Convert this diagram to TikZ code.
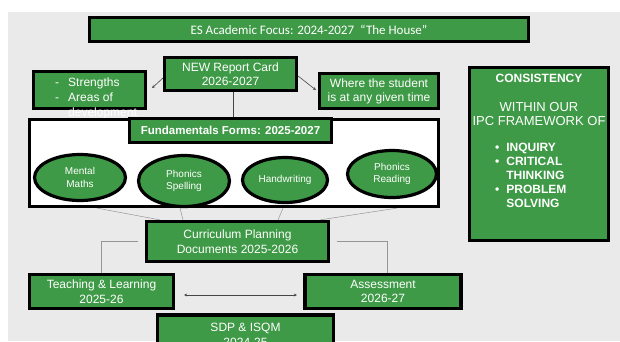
\documentclass[tikz,border=0pt]{standalone}
\usepackage{fontspec}
\setmainfont{Liberation Sans}
\newfontfamily\titlefont{Carlito}
\usetikzlibrary{shapes.geometric,arrows.meta,backgrounds}
\definecolor{housegreen}{RGB}{62,154,70}
\definecolor{slidegray}{RGB}{234,234,234}
\definecolor{linkgray}{RGB}{150,150,150}
\definecolor{arrowgray}{RGB}{70,70,70}
\newcommand\boxsize{\fontsize{12}{14.5}\selectfont}
\newcommand\ovalsize{\fontsize{10}{12.5}\selectfont}

\begin{document}
\begin{tikzpicture}
    [x=1pt,y=-1pt,
     greenbox/.style={draw=black,line width=3.2pt,fill=housegreen,text=white,align=center,inner sep=0pt},
     greenoval/.style={ellipse,draw=black,line width=3.2pt,fill=housegreen,text=white,align=center,inner sep=0pt,font=\ovalsize},
     link/.style={draw=linkgray,line width=0.5pt},
     pointer/.style={draw=arrowgray,line width=0.6pt,-{Stealth[length=3pt,width=3pt]}}]
    \boxsize
    \useasboundingbox (0,0) rectangle (620,341);
    % top row
    \node[greenbox,minimum width=439pt,minimum height=24pt,font=\titlefont\fontsize{13}{15}\selectfont] (title) at (309,29.5) {ES Academic Focus: 2024-2027~ “The House”};
    \node[greenbox,minimum width=132pt,minimum height=33pt] (report) at (230.5,74) {NEW Report Card\\2026-2027};
    \node[greenbox,minimum width=112pt,minimum height=37pt] (strengths) at (89.5,90) {};
    \node[text=white,align=left,inner sep=0pt,anchor=west,font=\fontsize{12}{15}\selectfont] (strengthslist) at (55,98)
      {-\hspace{9pt}Strengths\\-\hspace{9pt}Areas of\\\phantom{-}\hspace{9pt}development};
    \node[greenbox,minimum width=119pt,minimum height=35pt,font=\fontsize{12}{14}\selectfont] (where) at (379,91) {Where the student\\is at any given time};
    % side box
    \node[greenbox,minimum width=139pt,minimum height=173pt] (consistency) at (539,154) {};
    \node[text=white,font=\bfseries] (consistencyhead) at (539,78) {CONSISTENCY};
    \node[text=white,align=center,font=\fontsize{13}{14}\selectfont] (consistencyframe) at (539,114) {WITHIN OUR\\IPC FRAMEWORK OF};
    \node[text=white,inner sep=0pt,anchor=north west,font=\bfseries\fontsize{12}{14}\selectfont] (consistencylist) at (495,141)
      {\begin{tabular}{@{}l@{\hspace{7pt}}l@{}}\textbullet & INQUIRY\\ \textbullet & CRITICAL\\ & THINKING\\ \textbullet & PROBLEM\\ & SOLVING\end{tabular}};
    % fundamentals
    \node[draw=black,line width=3.2pt,fill=white,minimum width=409pt,minimum height=87pt] (formsframe) at (234,163) {};
    \node[greenbox,minimum width=202pt,minimum height=24pt,font=\bfseries\fontsize{11.5}{14}\selectfont] (formslabel) at (230.5,130.5) {Fundamentals Forms: 2025-2027};
    \node[greenoval,minimum width=91pt,minimum height=46pt] (mental) at (80,177.5) {Mental\\Maths};
    \node[greenoval,minimum width=91pt,minimum height=51pt] (spelling) at (184,181) {Phonics\\Spelling};
    \node[greenoval,minimum width=85pt,minimum height=45pt] (handwriting) at (285,180) {Handwriting};
    \node[greenoval,minimum width=89pt,minimum height=47pt] (reading) at (392,174) {Phonics\\Reading};
    % lower part
    \node[greenbox,minimum width=182pt,minimum height=40pt] (curriculum) at (237.5,241.5) {Curriculum Planning\\Documents 2025-2026};
    \node[greenbox,minimum width=144pt,minimum height=34pt] (teaching) at (101.5,291.5) {Teaching \& Learning\\2025-26};
    \node[greenbox,minimum width=156pt,minimum height=34pt] (assessment) at (383,291.5) {Assessment\\2026-27};
    \node[greenbox,minimum width=176pt,minimum height=40pt] (sdp) at (245.5,335) {SDP \& ISQM\\2024-25};
    % connectors
    \coordinate (f1) at ([xshift=-137pt]formsframe.south);
    \coordinate (f2) at ([xshift=-54pt]formsframe.south);
    \coordinate (f3) at ([xshift=49pt]formsframe.south);
    \coordinate (f4) at ([xshift=163pt]formsframe.south);
    \draw[pointer] ([yshift=-4pt]report.west) -- ([xshift=5pt,yshift=2pt]strengths.east);
    \draw[pointer] ([yshift=-2pt]report.east) -- ([xshift=-2pt,yshift=1pt]where.west);
    \draw[pointer,{Stealth[length=3pt,width=3pt]}-{Stealth[length=3pt,width=3pt]}]
      ([xshift=9pt,yshift=-3.5pt]teaching.east) -- ([xshift=-6.5pt,yshift=-3.5pt]assessment.west);
    \begin{scope}[on background layer]
      \fill[slidegray] (8,12) rectangle (620,341);
      \draw[draw=arrowgray,line width=0.6pt] ([xshift=2.5pt]report.south) -- ([xshift=2.5pt]report.south |- formsframe.north);
      \draw[link] (f1) -- ([xshift=-77.5pt]curriculum.north);
      \draw[link] (f2) -- ([xshift=-54.5pt]curriculum.north);
      \draw[link] (f3) -- ([xshift=40.5pt]curriculum.north);
      \draw[link] (f4) -- ([xshift=82.5pt]curriculum.north);
      \draw[link] ([xshift=-7pt]curriculum.west) -| (teaching.north);
      \draw[link] ([xshift=7pt]curriculum.east) -| ([xshift=4pt]assessment.north);
    \end{scope}
\end{tikzpicture}
\end{document}
